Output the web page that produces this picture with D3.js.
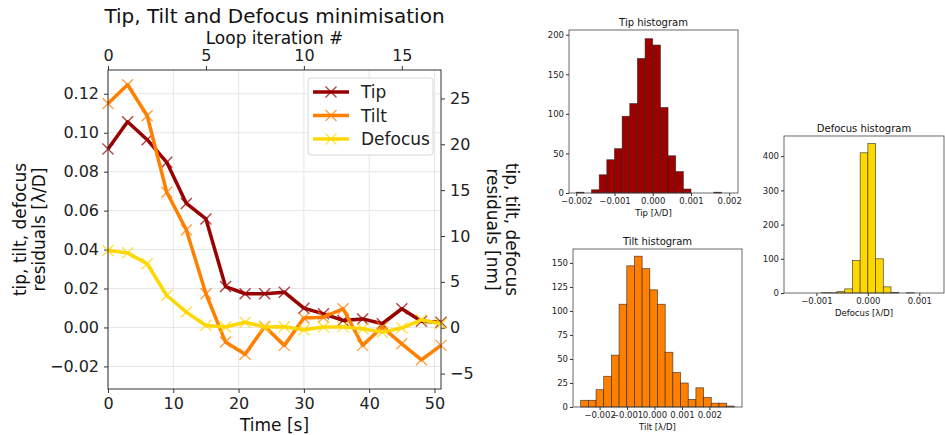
<!doctype html>
<html>
<head>
<meta charset="utf-8">
<title>Tip, Tilt and Defocus minimisation</title>
<script src="https://cdn.jsdelivr.net/npm/d3@7"></script>
<style>
  body { margin: 0; background: #fff; }
  svg { font-family: "DejaVu Sans", sans-serif; }
</style>
</head>
<body>
<script>

// main chart data
var timeS      = [0, 3, 6, 9, 12, 15, 18, 21, 24, 27, 30, 33, 36, 39, 42, 45, 48, 51];
var tipRes     = [0.0916, 0.1056, 0.0964, 0.0848, 0.0637, 0.0557, 0.0210, 0.0173, 0.0173, 0.0181, 0.0099, 0.0070, 0.0036, 0.0044, 0.0019, 0.0096, 0.0032, 0.0027];
var tiltRes    = [0.1150, 0.1246, 0.1087, 0.0694, 0.0501, 0.0173, -0.0075, -0.0138, 0.0005, -0.0092, 0.0048, 0.0053, 0.0096, -0.0092, 0.0002, -0.0084, -0.0166, -0.0092];
var defocusRes = [0.0395, 0.0383, 0.0327, 0.0164, 0.0079, 0.0010, 0.0002, 0.0027, 0.0002, 0.0004, -0.0012, 0.0002, 0.0003, -0.0007, -0.0024, -0.0003, 0.0039, 0.0019];
var seriesNames = ["Tip", "Tilt", "Defocus"];

var bottomTicks = [0, 10, 20, 30, 40, 50];
var topTicks    = [0, 5, 10, 15];
var leftTicks   = [-0.02, 0, 0.02, 0.04, 0.06, 0.08, 0.10, 0.12];
var rightTicks  = [-5, 0, 5, 10, 15, 20, 25];

// histograms
var tipEdges   = [-0.002, -0.0018, -0.0016, -0.0014, -0.0012, -0.001, -0.0008, -0.0006, -0.0004, -0.0002, 0, 0.0002, 0.0004, 0.0006, 0.0008, 0.001, 0.0012, 0.0014, 0.0016, 0.0018, 0.002];
var tipCounts  = [1, 0, 4, 23, 42, 56, 97, 113, 170, 195, 187, 108, 47, 27, 5, 0, 0, 0, 1, 0];
var tiltEdges  = [-0.00269, -0.00241, -0.00213, -0.00185, -0.00157, -0.00129, -0.00101, -0.00073, -0.00045, -0.00017, 0.00011, 0.00039, 0.00067, 0.00095, 0.00123, 0.00151, 0.00179, 0.00207, 0.00235, 0.00263, 0.00291];
var tiltCounts = [7, 7, 18, 32, 54, 107, 147, 157, 144, 122, 107, 57, 36, 25, 8, 20, 10, 4, 4, 1];
var defEdges   = [-0.0015, -0.00135, -0.0012, -0.00105, -0.0009, -0.00075, -0.0006, -0.00045, -0.0003, -0.00015, 0, 0.00015, 0.0003, 0.00045, 0.0006, 0.00075, 0.0009, 0.00105, 0.0012, 0.00135];
var defCounts  = [0, 0, 0, 0, 1, 1, 4, 12, 95, 410, 437, 100, 18, 2, 0, 1, 0, 0, 0];

var histXTicks    = [-0.002, -0.001, 0, 0.001, 0.002];
var defXTicks     = [-0.001, 0, 0.001];
var tipYTicks     = [0, 50, 100, 150, 200];
var tiltYTicks    = [0, 25, 50, 75, 100, 125, 150];
var defYTicks     = [0, 100, 200, 300, 400];

var colors = { Tip: "#990000", Tilt: "#ff8000", Defocus: "#ffd700" };
var histColors = { Tip: "#9e0000", Tilt: "#ff8000", Defocus: "#ffd700" };

var width = 945, height = 435;
var svg = d3.select("body").append("svg")
    .attr("width", width)
    .attr("height", height);

// ---------- main chart ----------
var L = 108, R = 441, T = 70, B = 389;

var x = d3.scaleLinear().domain([0, 51]).range([L, R]);
var xTop = d3.scaleLinear().domain([0, 17]).range([L, R]);
var y = d3.scaleLinear().domain([-0.0316, 0.1322]).range([B, T]);
var yRight = d3.scaleLinear().domain([-6.68, 28.1]).range([B, T]);

var main = svg.append("g");

// grid
main.selectAll("line.vgrid").data(bottomTicks).enter().append("line")
    .attr("x1", function(d) { return x(d); }).attr("x2", function(d) { return x(d); })
    .attr("y1", T).attr("y2", B)
    .attr("stroke", "#e6e6e6").attr("stroke-width", 1);
main.selectAll("line.hgrid").data(leftTicks).enter().append("line")
    .attr("x1", L).attr("x2", R)
    .attr("y1", function(d) { return y(d); }).attr("y2", function(d) { return y(d); })
    .attr("stroke", "#e6e6e6").attr("stroke-width", 1);

function styleAxis(g, size) {
    g.select(".domain").remove();
    g.selectAll(".tick line").attr("stroke", "#333");
    g.selectAll(".tick text").attr("font-size", size).attr("fill", "#222")
        .attr("font-family", "DejaVu Sans");
}

main.append("g").attr("transform", "translate(0," + B + ")")
    .call(d3.axisBottom(x).tickValues(bottomTicks).tickSize(4).tickPadding(5).tickFormat(d3.format("d")))
    .call(styleAxis, 16);
main.append("g").attr("transform", "translate(0," + T + ")")
    .call(d3.axisTop(xTop).tickValues(topTicks).tickSize(4).tickPadding(5).tickFormat(d3.format("d")))
    .call(styleAxis, 16);
main.append("g").attr("transform", "translate(" + L + ",0)")
    .call(d3.axisLeft(y).tickValues(leftTicks).tickSize(4).tickPadding(5).tickFormat(d3.format(".2f")))
    .call(styleAxis, 16);
main.append("g").attr("transform", "translate(" + R + ",0)")
    .call(d3.axisRight(yRight).tickValues(rightTicks).tickSize(4).tickPadding(5).tickFormat(d3.format("d")))
    .call(styleAxis, 16);

var seriesData = { Tip: tipRes, Tilt: tiltRes, Defocus: defocusRes };
var line = d3.line()
    .x(function(d, i) { return x(timeS[i]); })
    .y(function(d) { return y(d); });

var plotArea = main.append("g");
seriesNames.forEach(function(name) {
    var vals = seriesData[name];
    plotArea.append("path")
        .datum(vals)
        .attr("d", line)
        .attr("fill", "none")
        .attr("stroke", colors[name])
        .attr("stroke-width", 3.5)
        .attr("stroke-linejoin", "round");
    plotArea.selectAll("path.m" + name).data(vals).enter().append("path")
        .attr("d", "M-5.5,-5.5L5.5,5.5M-5.5,5.5L5.5,-5.5")
        .attr("transform", function(d, i) { return "translate(" + x(timeS[i]) + "," + y(d) + ")"; })
        .attr("stroke", colors[name])
        .attr("stroke-opacity", 0.75)
        .attr("stroke-width", 1.4)
        .attr("fill", "none");
});

// spines
main.append("rect")
    .attr("x", L).attr("y", T).attr("width", R - L).attr("height", B - T)
    .attr("fill", "none").attr("stroke", "#333").attr("stroke-width", 1);

// legend
var leg = main.append("g").attr("transform", "translate(308,78)");
leg.append("rect")
    .attr("width", 125).attr("height", 77).attr("rx", 3)
    .attr("fill", "#fff").attr("fill-opacity", 0.85)
    .attr("stroke", "#d8d8d8");
seriesNames.forEach(function(name, i) {
    var yy = 14 + i * 23.5;
    leg.append("line").attr("x1", 5).attr("x2", 41).attr("y1", yy).attr("y2", yy)
        .attr("stroke", colors[name]).attr("stroke-width", 3.5);
    leg.append("path").attr("d", "M-5.5,-5.5L5.5,5.5M-5.5,5.5L5.5,-5.5")
        .attr("transform", "translate(23," + yy + ")")
        .attr("stroke", colors[name]).attr("stroke-opacity", 0.75).attr("stroke-width", 1.4);
    leg.append("text").attr("x", 53).attr("y", yy + 6)
        .attr("font-size", 17).attr("fill", "#222").text(name);
});

// titles and labels
svg.append("text").attr("x", (L + R) / 2).attr("y", 23).attr("text-anchor", "middle")
    .attr("font-size", 20).attr("fill", "#111").text("Tip, Tilt and Defocus minimisation");
svg.append("text").attr("x", (L + R) / 2).attr("y", 43.5).attr("text-anchor", "middle")
    .attr("font-size", 17).attr("fill", "#111").text("Loop iteration #");
svg.append("text").attr("x", (L + R) / 2).attr("y", 431).attr("text-anchor", "middle")
    .attr("font-size", 17).attr("fill", "#111").text("Time [s]");

var ylab = svg.append("text").attr("transform", "translate(26," + ((T + B) / 2) + ") rotate(-90)")
    .attr("text-anchor", "middle").attr("font-size", 17).attr("fill", "#111");
ylab.append("tspan").attr("x", 0).attr("dy", 0).text("tip, tilt, defocus");
ylab.append("tspan").attr("x", 0).attr("dy", 19).text("residuals [λ/D]");

var ylabR = svg.append("text").attr("transform", "translate(506," + ((T + B) / 2) + ") rotate(90)")
    .attr("text-anchor", "middle").attr("font-size", 17).attr("fill", "#111");
ylabR.append("tspan").attr("x", 0).attr("dy", 0).text("tip, tilt, defocus");
ylabR.append("tspan").attr("x", 0).attr("dy", 19).text("residuals [nm]");

// ---------- histograms ----------
function histogram(opts) {
    var g = svg.append("g");
    var hx = d3.scaleLinear().domain(opts.xDomain).range([opts.left, opts.right]);
    var hy = d3.scaleLinear().domain(opts.yDomain).range([opts.bottom, opts.top]);
    var bins = opts.counts.map(function(c, i) { return { x0: opts.edges[i], x1: opts.edges[i + 1], n: c }; });

    g.selectAll("rect.bar").data(bins).enter().append("rect")
        .attr("x", function(d) { return hx(d.x0); })
        .attr("width", function(d) { return hx(d.x1) - hx(d.x0); })
        .attr("y", function(d) { return hy(d.n); })
        .attr("height", function(d) { return hy(0) - hy(d.n); })
        .attr("fill", opts.color)
        .attr("stroke", "#222").attr("stroke-opacity", 0.8).attr("stroke-width", 0.7);

    g.append("g").attr("transform", "translate(0," + opts.bottom + ")")
        .call(d3.axisBottom(hx).tickValues(opts.xTicks).tickSize(3).tickPadding(2).tickFormat(d3.format(".3f")))
        .call(styleAxis, 8.5);
    g.append("g").attr("transform", "translate(" + opts.left + ",0)")
        .call(d3.axisLeft(hy).tickValues(opts.yTicks).tickSize(3).tickPadding(2).tickFormat(d3.format("d")))
        .call(styleAxis, 8.5);

    g.append("rect")
        .attr("x", opts.left).attr("y", opts.top)
        .attr("width", opts.right - opts.left).attr("height", opts.bottom - opts.top)
        .attr("fill", "none").attr("stroke", "#444").attr("stroke-width", 0.8);

    g.append("text").attr("x", (opts.left + opts.right) / 2).attr("y", opts.top - 4)
        .attr("text-anchor", "middle").attr("font-size", 10).attr("fill", "#111").text(opts.title);
    g.append("text").attr("x", (opts.left + opts.right) / 2).attr("y", opts.bottom + 23)
        .attr("text-anchor", "middle").attr("font-size", 8.5).attr("fill", "#111").text(opts.xLabel);
}

histogram({
    left: 569, right: 738, top: 30, bottom: 193,
    xDomain: [-0.00219, 0.00223], yDomain: [0, 206],
    edges: tipEdges, counts: tipCounts, color: histColors.Tip,
    xTicks: histXTicks, yTicks: tipYTicks,
    title: "Tip histogram", xLabel: "Tip [λ/D]"
});
histogram({
    left: 573, right: 742, top: 249, bottom: 407,
    xDomain: [-0.00297, 0.00319], yDomain: [0, 164.5],
    edges: tiltEdges, counts: tiltCounts, color: histColors.Tilt,
    xTicks: histXTicks, yTicks: tiltYTicks,
    title: "Tilt histogram", xLabel: "Tilt [λ/D]"
});
histogram({
    left: 784, right: 944, top: 136, bottom: 293,
    xDomain: [-0.00163, 0.00148], yDomain: [0, 459],
    edges: defEdges, counts: defCounts, color: histColors.Defocus,
    xTicks: defXTicks, yTicks: defYTicks,
    title: "Defocus histogram", xLabel: "Defocus [λ/D]"
});

</script>
</body>
</html>
